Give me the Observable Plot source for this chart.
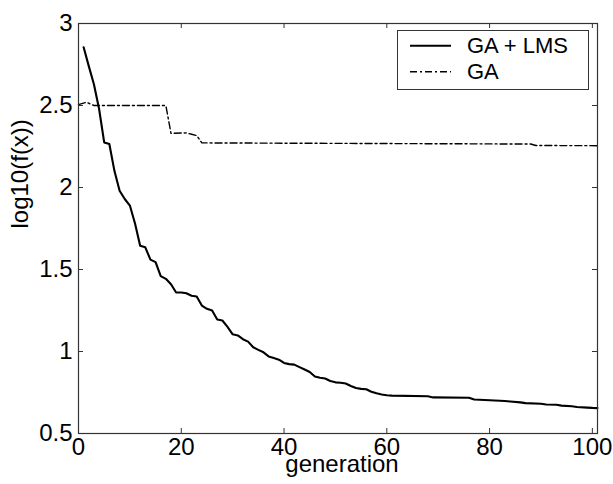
<!DOCTYPE html>
<html><head><meta charset="utf-8">
<script src="https://cdn.jsdelivr.net/npm/d3@7"></script>
<script src="https://cdn.jsdelivr.net/npm/@observablehq/plot@0.6"></script>
<style>
body{margin:0;background:#fff;}
#wrap{position:relative;width:613px;height:484px;font-family:"Liberation Sans",Arial,sans-serif;}
#legend{position:absolute;left:397px;top:30px;}
</style></head><body><div id="wrap"></div>
<script>
const seriesNames = ["GA + LMS", "GA"];
const xTicks = [0, 20, 40, 60, 80, 100];
const xTickLabels = ["0", "20", "40", "60", "80", "100"];
const yTicks = [0.5, 1, 1.5, 2, 2.5, 3];
const yTickLabels = ["0.5", "1", "1.5", "2", "2.5", "3"];
const xLabel = "generation";
const yLabel = "log10(f(x))";

const gaLmsGen = [1,2,3,4,5,6,7,8,9,10,11,12,13,14,15,16,17,18,19,20,21,22,23,24,25,26,27,28,29,30,31,32,33,34,35,36,37,38,39,40,41,42,43,44,45,46,47,48,49,50,51,52,53,54,55,56,57,58,59,60,61,68,69,76,77,83,84,86,87,90,91,93,94,96,97,99,100,101];
const gaLmsVal = [2.855,2.74,2.63,2.48,2.275,2.265,2.10,1.98,1.93,1.89,1.78,1.645,1.635,1.56,1.545,1.46,1.443,1.41,1.36,1.36,1.355,1.34,1.335,1.28,1.26,1.25,1.195,1.189,1.15,1.105,1.098,1.075,1.06,1.026,1.01,0.995,0.97,0.96,0.95,0.93,0.923,0.92,0.905,0.89,0.875,0.848,0.84,0.835,0.82,0.812,0.809,0.805,0.79,0.777,0.772,0.77,0.755,0.745,0.738,0.733,0.731,0.727,0.72,0.718,0.707,0.698,0.695,0.69,0.685,0.681,0.677,0.675,0.67,0.666,0.662,0.658,0.656,0.655];

const gaGen = [0,1.5,3,17,18,21,22,23,24,60,88,89,101];
const gaVal = [2.505,2.52,2.50,2.50,2.33,2.333,2.325,2.317,2.272,2.268,2.265,2.256,2.255];

const gaLms = gaLmsGen.map((g, i) => ({g, v: gaLmsVal[i]}));
const ga = gaGen.map((g, i) => ({g, v: gaVal[i]}));

const W = 613, H = 484, mL = 78, mR = 16, mT = 23, mB = 51;
const fw = W - mL - mR, fh = H - mT - mB, tk = 5;
const font = "Liberation Sans, Arial, sans-serif";
const dash = "7,3,2,3";

const chart = Plot.plot({
  width: W, height: H,
  marginLeft: mL, marginRight: mR, marginTop: mT, marginBottom: mB,
  style: {fontFamily: font, fontSize: "24px", color: "black", background: "white"},
  x: {domain: [0, 101], ticks: xTicks, label: null},
  y: {domain: [0.5, 3], ticks: yTicks, label: null},
  marks: [
    Plot.line(ga, {x: "g", y: "v", stroke: "black", strokeWidth: 1.4, strokeDasharray: dash}),
    Plot.line(gaLms, {x: "g", y: "v", stroke: "black", strokeWidth: 2.1}),
    Plot.tickX(xTicks, {x: d => d, insetTop: fh - tk, stroke: "#333"}),
    Plot.tickX(xTicks, {x: d => d, insetBottom: fh - tk, stroke: "#333"}),
    Plot.tickY(yTicks, {y: d => d, insetRight: fw - tk, stroke: "#333"}),
    Plot.tickY(yTicks, {y: d => d, insetLeft: fw - tk, stroke: "#333"}),
    Plot.frame({stroke: "#333", strokeWidth: 1.2}),
    Plot.axisX({ticks: xTicks, tickSize: 0, tickPadding: 4, fontSize: 24, label: null,
      tickFormat: d => xTickLabels[xTicks.indexOf(d)]}),
    Plot.axisY({ticks: yTicks, tickSize: 0, tickPadding: 6, fontSize: 24, label: null,
      tickFormat: d => yTickLabels[yTicks.indexOf(d)]}),
    Plot.text([xLabel], {text: d => d, frameAnchor: "bottom", dy: 38, dx: 4, fontSize: 24, fill: "black"}),
    Plot.text([yLabel], {text: d => d, frameAnchor: "left", dx: -58, rotate: -90, fontSize: 24, fill: "black"})
  ]
});
const wrap = document.getElementById("wrap");
wrap.appendChild(chart);

// legend
const ns = "http://www.w3.org/2000/svg";
const lg = document.createElementNS(ns, "svg");
lg.setAttribute("id", "legend");
lg.setAttribute("width", 193);
lg.setAttribute("height", 61);
lg.innerHTML = `<rect x="0.5" y="0.5" width="191" height="59" fill="white" stroke="#333" stroke-width="1"/>`;
const styles = [{dash: null, w: 2.1}, {dash: dash, w: 1.4}];
seriesNames.forEach((name, i) => {
  const y = 15.7 + i * 26;
  const ln = document.createElementNS(ns, "line");
  ln.setAttribute("x1", 13); ln.setAttribute("x2", 54);
  ln.setAttribute("y1", y); ln.setAttribute("y2", y);
  ln.setAttribute("stroke", "black");
  ln.setAttribute("stroke-width", styles[i].w);
  if (styles[i].dash) ln.setAttribute("stroke-dasharray", styles[i].dash);
  lg.appendChild(ln);
  const t = document.createElementNS(ns, "text");
  t.setAttribute("x", 70); t.setAttribute("y", y);
  t.setAttribute("dy", "0.35em");
  t.setAttribute("font-size", "22px");
  t.setAttribute("font-family", font);
  t.textContent = name;
  lg.appendChild(t);
});
wrap.appendChild(lg);
</script>
</body></html>
